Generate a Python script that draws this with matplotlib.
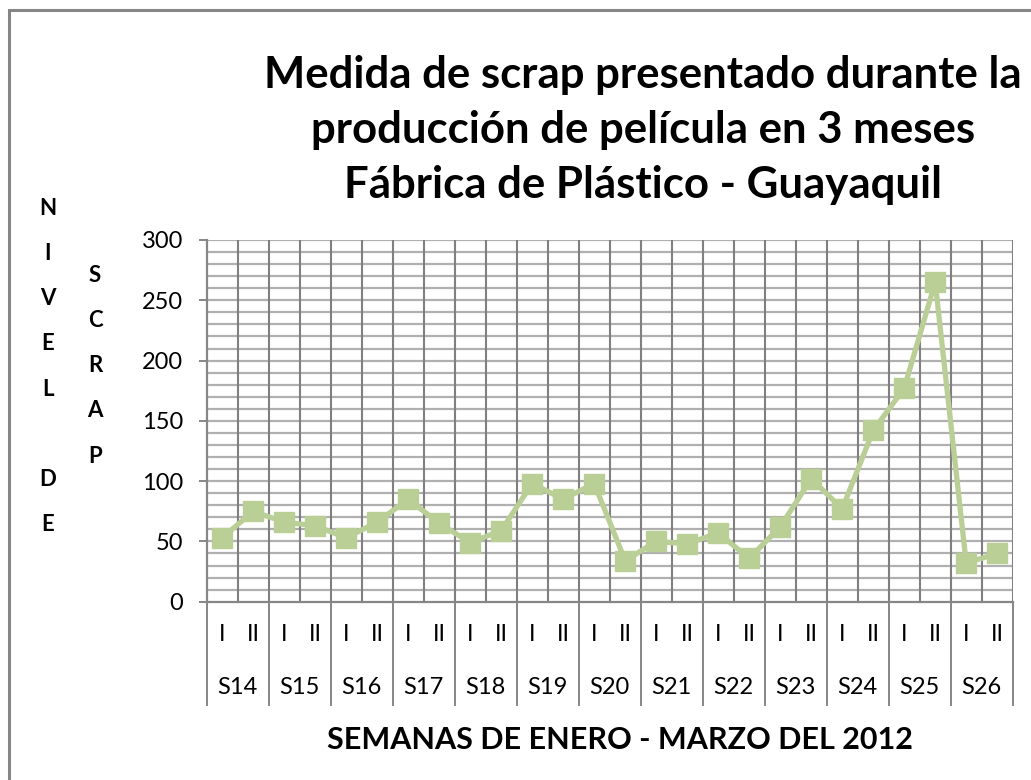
import matplotlib.pyplot as plt
from matplotlib.patches import Rectangle
from matplotlib.transforms import blended_transform_factory
import numpy as np

plt.rcParams["font.family"] = ["Lato", "DejaVu Sans"]

# scrap per half-week, weeks S14..S26
semanas = ["S14", "S15", "S16", "S17", "S18", "S19", "S20",
           "S21", "S22", "S23", "S24", "S25", "S26"]
mitades = ["I", "II"]
scrap = [53, 75, 66, 63, 53, 66, 85, 65, 49, 59, 98, 85, 98,
         34, 50, 48, 57, 36, 62, 102, 77, 142, 177, 265, 32, 40]

W, H = 1031, 780
fig = plt.figure(figsize=(W / 100, H / 100), dpi=100)

# chart frame (only top/left edges fall inside the image)
fig.patches.append(Rectangle((9 / W, -0.05), 1.1, (H - 10) / H + 0.05,
                             transform=fig.transFigure, fill=False,
                             edgecolor="#868686", linewidth=2.2))

ax = fig.add_axes([206.7 / W, 178.3 / H, 806 / W, 361.7 / H])

n = len(scrap)
x = np.arange(n) + 0.5
ax.set_xlim(0, n)
ax.set_ylim(0, 300)

# horizontal grid every 10
for v in range(10, 301, 10):
    ax.axhline(v, color="#b0b0b0", linewidth=1.6, zorder=1)
# vertical grid at each half-week boundary
for b in range(1, n + 1):
    ax.axvline(b, color="#808080", linewidth=1.5, zorder=1)

ax.plot(x, scrap, color="#b9cf96", linewidth=3.8, marker="s",
        markersize=14, markerfacecolor="#b9cf96", markeredgecolor="#b9cf96",
        zorder=3)

for s in ["top", "right"]:
    ax.spines[s].set_visible(False)
for s in ["left", "bottom"]:
    ax.spines[s].set_color("#868686")
    ax.spines[s].set_linewidth(1.6)

ax.set_yticks(range(0, 301, 50))
ax.tick_params(axis="y", direction="out", length=6, width=1.4,
               color="#868686", labelsize=17, pad=11)
ax.set_xticks([])

# two-level category labels under the axis
tr = blended_transform_factory(ax.transData, ax.transAxes)
for i in range(n):
    ax.text(x[i], -0.092, mitades[i % 2], transform=tr, ha="center",
            va="center", fontsize=17)
for j, s in enumerate(semanas):
    ax.text(2 * j + 1, -0.238, s, transform=tr, ha="center", va="center",
            fontsize=17)
for j in range(len(semanas) + 1):
    ax.plot([2 * j, 2 * j], [0, -0.285], transform=tr, color="#868686",
            linewidth=1.4, clip_on=False)

fig.text(643 / W, 1 - 130 / H,
         "Medida de scrap presentado durante la\n"
         "producción de película en 3 meses\n"
         "Fábrica de Plástico - Guayaquil",
         ha="center", va="center", fontsize=31.5, fontweight="bold",
         linespacing=1.45)

fig.text(620 / W, 1 - 740 / H, "SEMANAS DE ENERO - MARZO DEL 2012",
         ha="center", va="center", fontsize=22, fontweight="bold")

fig.text(48 / W, 1 - 198 / H, "N\nI\nV\nE\nL\n\nD\nE", ha="center",
         va="top", fontsize=16, fontweight="bold", linespacing=2.42)
fig.text(95 / W, 1 - 265 / H, "S\nC\nR\nA\nP", ha="center",
         va="top", fontsize=16, fontweight="bold", linespacing=2.42)

fig.savefig("out.png", dpi=100)
